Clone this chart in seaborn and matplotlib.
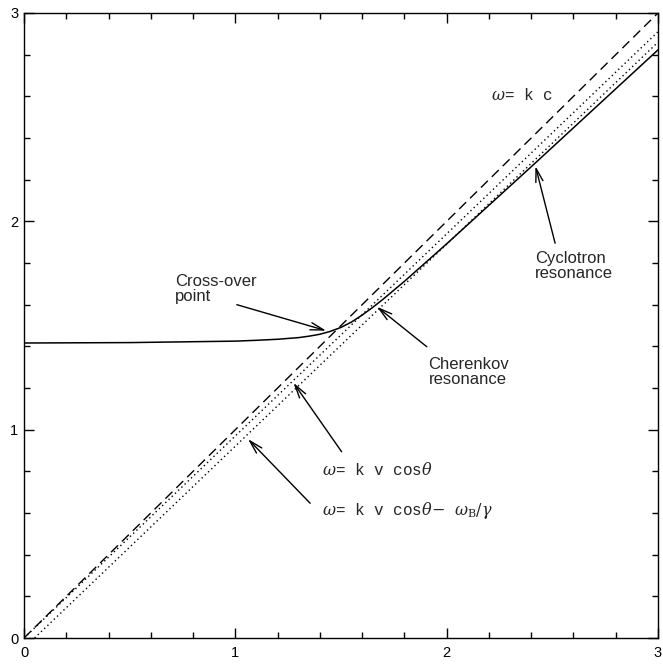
import matplotlib
matplotlib.use("Agg")
import matplotlib.pyplot as plt
from matplotlib.ticker import MultipleLocator
import seaborn as sns
import pandas as pd

# Light line  omega = k c
k_light = [0.0, 3.0]
w_light = [0.0, 3.0]

# Beam line  omega = k v cos(theta)
k_cher = [0.0, 3.0]
w_cher = [0.0, 2.91]

# Doppler-shifted cyclotron line  omega = k v cos(theta) - omega_B / gamma
k_cyc = [0.05, 3.0]
w_cyc = [0.0, 2.86]

# Waveguide mode dispersion curve
k_mode = [0.0, 0.5, 1.0, 1.1, 1.2, 1.3, 1.35, 1.4, 1.45, 1.5, 1.55, 1.6,
          1.65, 1.7, 1.8, 1.9, 2.0, 2.2, 2.4, 2.6, 2.8, 3.0]
w_mode = [1.416, 1.418, 1.425, 1.429, 1.434, 1.442, 1.449, 1.458, 1.472, 1.491,
          1.517, 1.550, 1.587, 1.627, 1.712, 1.802, 1.892, 2.077, 2.262, 2.449,
          2.636, 2.823]

tick_values = [0, 1, 2, 3]
tick_labels = ["0", "1", "2", "3"]

sns.set_style("ticks")
plt.rcParams["font.family"] = ["Liberation Sans", "DejaVu Sans"]
plt.rcParams["mathtext.fontset"] = "dejavuserif"

fig = plt.figure(figsize=(6.63, 6.66), dpi=100)
ax = fig.add_axes([0.0362, 0.042, 0.9563, 0.9385])

line_kw = dict(color="black", estimator=None, sort=False, legend=False, ax=ax)
sns.lineplot(data=pd.DataFrame({"k": k_light, "w": w_light}), x="k", y="w",
             linewidth=1.0, linestyle=(0, (7, 4)), **line_kw)
sns.lineplot(data=pd.DataFrame({"k": k_cher, "w": w_cher}), x="k", y="w",
             linewidth=1.0, linestyle=(0, (1, 2.2)), **line_kw)
sns.lineplot(data=pd.DataFrame({"k": k_cyc, "w": w_cyc}), x="k", y="w",
             linewidth=1.0, linestyle=(0, (1, 2.2)), **line_kw)
sns.lineplot(data=pd.DataFrame({"k": k_mode, "w": w_mode}), x="k", y="w",
             linewidth=1.1, linestyle="-", **line_kw)

ax.set_xlim(0, 3)
ax.set_ylim(0, 3)
ax.set_xlabel("")
ax.set_ylabel("")
ax.set_xticks(tick_values)
ax.set_xticklabels(tick_labels)
ax.set_yticks(tick_values)
ax.set_yticklabels(tick_labels)
ax.xaxis.set_minor_locator(MultipleLocator(0.2))
ax.yaxis.set_minor_locator(MultipleLocator(0.2))
ax.tick_params(which="both", direction="in", top=True, right=True,
               width=1.0, labelsize=10.5, colors="black")
ax.tick_params(which="major", length=7)
ax.tick_params(which="minor", length=4)
ax.tick_params(axis="x", pad=6)
ax.tick_params(axis="y", pad=4)
for s in ax.spines.values():
    s.set_linewidth(1.0)
    s.set_color("black")
    s.set_visible(True)

arrow = dict(arrowstyle="->,head_length=0.8,head_width=0.22", color="black",
             lw=1.0, shrinkA=0, shrinkB=0)

def pointer(tip, tail):
    ax.annotate("", xy=tip, xytext=tail, arrowprops=arrow, fontsize=12)

# Labels in sans serif
ax.text(0.715, 1.745, "Cross-over\npoint", fontsize=12, ha="left", va="top",
        linespacing=1.0)
pointer((1.43, 1.475), (1.007, 1.60))

ax.text(1.914, 1.350, "Cherenkov\nresonance", fontsize=12, ha="left", va="top",
        linespacing=1.0)
pointer((1.67, 1.59), (1.906, 1.398))

ax.text(2.418, 1.860, "Cyclotron\nresonance", fontsize=12, ha="left", va="top",
        linespacing=1.0)
pointer((2.42, 2.265), (2.513, 1.895))

# Equation labels
eq_kw = dict(fontsize=11.5, va="center",
             family=["Liberation Mono", "DejaVu Sans Mono"])
ax.text(2.503, 2.607, r"$\omega$= k c", ha="right", **eq_kw)
ax.text(1.409, 0.811, r"$\omega$= k v cos$\theta$", ha="left", **eq_kw)
pointer((1.275, 1.225), (1.503, 0.894))
ax.text(1.409, 0.610, r"$\omega$= k v cos$\theta$$-$ $\omega_{\rm B}/\gamma$",
        ha="left", **eq_kw)
pointer((1.06, 0.955), (1.354, 0.647))

fig.savefig("out.png", dpi=100)
